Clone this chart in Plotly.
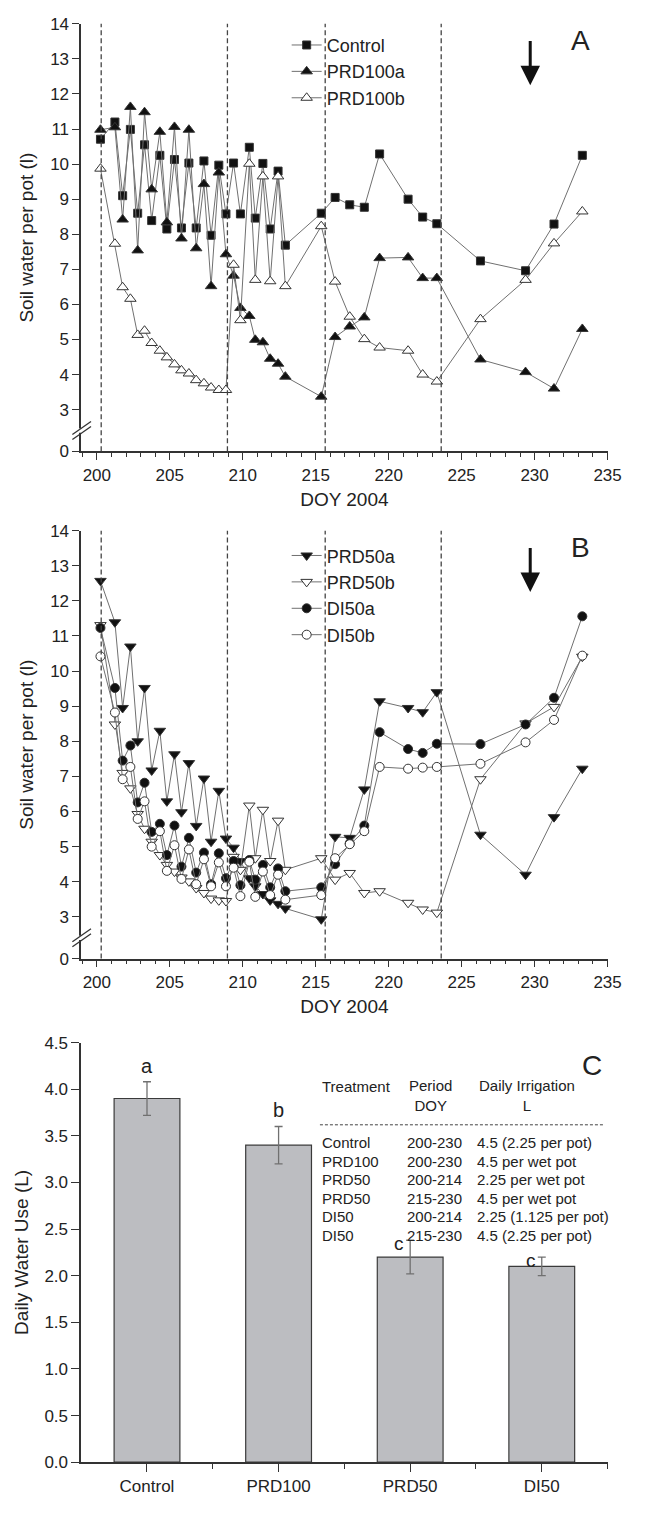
import plotly.graph_objects as go

W, H = 647, 1513
FONT = "Liberation Sans, Arial, sans-serif"
INK = "#222222"
AXIS = "#333333"

# ---- panels A and B: soil water per pot (l) by day of year 2004 ----
doy = [200.25, 201.24, 201.77, 202.3, 202.8, 203.27, 203.76, 204.32, 204.8, 205.32,
       205.8, 206.31, 206.81, 207.34, 207.83, 208.36, 208.85, 209.37, 209.84, 210.45,
       210.86, 211.38, 211.88, 212.42, 212.92, 215.38, 216.33, 217.33, 218.33, 219.38,
       221.33, 222.33, 223.3, 226.29, 229.38, 231.33, 233.27]

control = [10.71, 11.2, 9.1, 10.99, 8.6, 10.55, 8.39, 10.25, 8.15, 10.13,
           8.18, 10.03, 8.18, 10.09, 7.97, 9.97, 8.58, 10.03, 8.58, 10.48,
           8.46, 10.02, 8.15, 9.8, 7.69, 8.6, 9.05, 8.84, 8.77, 10.29,
           9.0, 8.49, 8.3, 7.24, 6.96, 8.29, 10.25]
prd100a = [10.98, 11.05, 8.42, 11.63, 7.54, 11.48, 9.28, 10.92, 8.34, 11.06,
           7.88, 10.98, 7.6, 9.43, 6.52, 9.76, 7.43, 6.82, 5.9, 5.67,
           4.99, 4.92, 4.45, 4.31, 3.94, 3.37, 5.07, 5.37, 5.63, 7.32,
           7.34, 6.75, 6.75, 4.43, 4.07, 3.6, 5.3]
prd100b = [9.87, 7.73, 6.49, 6.16, 5.13, 5.25, 4.9, 4.68, 4.49, 4.29,
           4.12, 4.03, 3.84, 3.75, 3.63, 3.56, 3.56, 7.13, 5.55, 10.01,
           6.7, 9.65, 6.66, 9.65, 6.52, 8.23, 6.65, 5.65, 5.01, 4.77,
           4.68, 4.0, 3.8, 5.58, 6.7, 7.74, 8.65]

prd50a = [12.57, 11.39, 8.95, 10.7, 8.0, 9.52, 7.17, 8.3, 6.29, 7.63,
          5.98, 7.38, 5.59, 6.94, 5.14, 6.59, 5.23, 4.97, 4.59, 4.1,
          3.87, 3.65, 3.47, 3.37, 3.24, 2.93, 5.28, 5.25, 6.63, 9.14,
          8.95, 8.83, 9.4, 5.34, 4.2, 5.84, 7.22]
prd50b = [11.31, 8.48, 7.1, 6.66, 5.93, 5.51, 5.14, 4.76, 4.48, 4.29,
          4.12, 4.01, 3.82, 3.68, 3.52, 3.47, 3.45, 4.71, 4.34, 6.17,
          4.67, 6.05, 4.59, 5.74, 4.34, 4.67, 4.06, 4.25, 3.68, 3.73,
          3.4, 3.21, 3.12, 6.92, 8.51, 8.98, 10.41]
di50a = [11.23, 9.52, 7.45, 7.88, 6.26, 6.82, 5.42, 5.65, 4.76, 5.6,
         4.43, 5.25, 4.26, 4.83, 3.93, 4.81, 4.1, 4.59, 3.9, 4.62,
         4.06, 4.48, 3.84, 4.38, 3.73, 3.84, 4.5, 5.09, 5.6, 8.26,
         7.78, 7.67, 7.93, 7.92, 8.48, 9.24, 11.56]
di50b = [10.42, 8.82, 6.92, 7.27, 5.79, 6.29, 5.0, 5.44, 4.31, 5.04,
         4.08, 4.92, 3.93, 4.64, 3.87, 4.55, 3.87, 4.4, 3.59, 4.57,
         3.57, 4.29, 3.62, 4.2, 3.49, 3.62, 4.67, 5.07, 5.44, 7.27,
         7.22, 7.25, 7.27, 7.36, 7.97, 8.61, 10.44]

stage_doy = [200.3, 208.95, 215.65, 223.6]
arrow_doy = 229.7

# ---- panel C: daily water use ----
treatments = ["Control", "PRD100", "PRD50", "DI50"]
water_use = [3.9, 3.4, 2.2, 2.1]
water_se = [0.18, 0.2, 0.18, 0.1]
letters = ["a", "b", "c", "c"]

table_treat = ["Control", "PRD100", "PRD50", "PRD50", "DI50", "DI50"]
table_period = ["200-230", "200-230", "200-214", "215-230", "200-214", "215-230"]
table_irrig = ["4.5 (2.25 per pot)", "4.5 per wet pot", "2.25 per wet pot",
               "4.5 per wet pot", "2.25 (1.125 per pot)", "4.5 (2.25 per pot)"]

Y_ZERO = 1.81  # value where the "0" of the broken axis is drawn


def px(x):
    return x / W


def py(y):
    return 1 - y / H


def note(x, y, text, size=15, xanchor="center", **kw):
    # text placed in page pixels
    return dict(x=px(x), y=py(y), xref="paper", yref="paper", text=text, showarrow=False,
                xanchor=xanchor, yanchor="middle", font=dict(size=size), **kw)


fig = go.Figure()

# (name, data, symbol, fill, size)
series_a = [
    ("Control", control, "square", "#111111", 8),
    ("PRD100a", prd100a, "triangle-up", "#111111", 10),
    ("PRD100b", prd100b, "triangle-up", "white", 10),
]
series_b = [
    ("PRD50a", prd50a, "triangle-down", "#111111", 10),
    ("PRD50b", prd50b, "triangle-down", "white", 10),
    ("DI50a", di50a, "circle", "#111111", 9),
    ("DI50b", di50b, "circle", "white", 9),
]

for axes, legend, series in [(("x", "y"), "legend", series_a),
                             (("x2", "y2"), "legend2", series_b)]:
    for name, vals, sym, fill, size in series:
        fig.add_trace(go.Scatter(
            x=doy, y=vals, name=name, mode="lines+markers",
            xaxis=axes[0], yaxis=axes[1], legend=legend,
            line=dict(color="#707070", width=1),
            marker=dict(symbol=sym, size=size, color=fill,
                        line=dict(color="#333333", width=1)),
        ))

fig.add_trace(go.Bar(
    x=list(range(len(treatments))), y=water_use, width=0.5,
    xaxis="x3", yaxis="y3", showlegend=False,
    marker=dict(color="#bcbdc1", line=dict(color="#3a3a3a", width=1.2)),
    error_y=dict(type="data", array=water_se, color="#707070", thickness=1.3, width=4),
))

doy_x = dict(
    range=[198.93, 235], showline=True, linecolor=AXIS, linewidth=1.5,
    ticks="outside", ticklen=7, tickwidth=1.2, tickcolor=AXIS,
    tick0=200, dtick=5, showgrid=False, zeroline=False,
    minor=dict(dtick=1, ticks="outside", ticklen=4, tickwidth=1, tickcolor=AXIS),
    tickfont=dict(size=17), title=dict(text="DOY 2004", font=dict(size=19), standoff=9),
)
water_y = dict(
    range=[Y_ZERO, 14], showline=True, linecolor=AXIS, linewidth=1.5,
    ticks="outside", ticklen=7, tickwidth=1.2, tickcolor=AXIS,
    tickmode="array", tickvals=[Y_ZERO] + list(range(3, 15)),
    ticktext=["0"] + [str(v) for v in range(3, 15)],
    showgrid=False, zeroline=False, tickfont=dict(size=17),
    title=dict(text="Soil water per pot (l)", font=dict(size=19), standoff=11),
)
legend_style = dict(xanchor="left", yanchor="top", bgcolor="rgba(0,0,0,0)",
                    font=dict(size=18), tracegroupgap=0)

fig.update_layout(
    width=W, height=H, margin=dict(l=0, r=0, t=0, b=0),
    paper_bgcolor="white", plot_bgcolor="white",
    font=dict(family=FONT, color=INK, size=17),
    xaxis=dict(doy_x, domain=[px(83), px(621)], anchor="y"),
    yaxis=dict(water_y, domain=[py(448), py(15)], anchor="x"),
    xaxis2=dict(doy_x, domain=[px(83), px(621)], anchor="y2"),
    yaxis2=dict(water_y, domain=[py(961.7), py(528.3)], anchor="x2"),
    xaxis3=dict(
        domain=[px(83), px(621)], anchor="y3", range=[-0.5, 3.5],
        showline=True, linecolor=AXIS, linewidth=1.5,
        ticks="outside", ticklen=8, tickwidth=1.2, tickcolor=AXIS,
        tickmode="array", tickvals=list(range(len(treatments))), ticktext=treatments,
        minor=dict(tickvals=[i + 0.5 for i in range(len(treatments))],
                   ticks="outside", ticklen=5, tickwidth=1.2, tickcolor=AXIS),
        showgrid=False, zeroline=False, tickfont=dict(size=17),
    ),
    yaxis3=dict(
        domain=[py(1471.7), py(1046.7)], anchor="x3", range=[0, 4.5],
        showline=True, linecolor=AXIS, linewidth=1.5,
        ticks="outside", ticklen=8, tickwidth=1.2, tickcolor=AXIS,
        dtick=0.5, tickformat=".1f", showgrid=False, zeroline=False,
        tickfont=dict(size=17),
        title=dict(text="Daily Water Use (L)", font=dict(size=19), standoff=11),
    ),
    legend=dict(legend_style, x=px(293), y=py(18)),
    legend2=dict(legend_style, x=px(293), y=py(535)),
)

shapes = []
annotations = []
for xa, ya, letter, letter_y in [("x", "y", "A", 32), ("x2", "y2", "B", 545)]:
    for d in stage_doy:
        shapes.append(dict(type="line", xref=xa, yref=ya + " domain", x0=d, x1=d,
                           y0=0, y1=1, line=dict(color="#444444", width=1.3, dash="5px,3px")))
    # axis break marks
    shapes.append(dict(type="rect", xref="paper", yref=ya, x0=px(80), x1=px(86),
                       y0=2.34, y1=2.46, fillcolor="white", line=dict(width=0), layer="above"))
    for off in (0.0, 0.14):
        shapes.append(dict(type="line", xref="paper", yref=ya, x0=px(74), x1=px(93),
                           y0=2.15 + off, y1=2.52 + off, line=dict(color=AXIS, width=1.3)))
    annotations.append(dict(x=arrow_doy, y=12.25, ax=arrow_doy, ay=13.55, xref=xa, yref=ya,
                            axref=xa, ayref=ya, showarrow=True, arrowhead=2, arrowsize=1.3,
                            arrowwidth=3, arrowcolor="#111111", text=""))
    annotations.append(note(593, letter_y, letter, size=28))

# significance letters above bars
for i, (v, se, lt) in enumerate(zip(water_use, water_se, letters)):
    if i < 2:
        annotations.append(dict(x=i, y=v + se, xref="x3", yref="y3", text=lt, showarrow=False,
                                xanchor="center", yanchor="bottom", yshift=3,
                                font=dict(size=20)))
    else:
        annotations.append(dict(x=i, y=v + se, xref="x3", yref="y3", text=lt, showarrow=False,
                                xanchor="center", yanchor="middle", xshift=-11, yshift=-3,
                                font=dict(size=19)))

annotations.append(note(605, 1070, "C", size=28))

# treatment table inside panel C
annotations.append(note(327, 1091, "Treatment", xanchor="left"))
annotations.append(note(440, 1100.5, "Period<br>DOY"))
annotations.append(note(539, 1100.5, "Daily Irrigation<br>L"))
shapes.append(dict(type="line", xref="paper", yref="paper", x0=px(327), x1=px(617),
                   y0=py(1130), y1=py(1130), line=dict(color="#444444", width=1, dash="3px,2px")))
for k, (t, p, irr) in enumerate(zip(table_treat, table_period, table_irrig)):
    yy = 1148 + 18.8 * k
    for xx, txt in [(327, t), (414, p), (486, irr)]:
        annotations.append(note(xx, yy, txt, xanchor="left"))

fig.update_layout(shapes=shapes, annotations=annotations)

fig.write_html("out.html", config={"displayModeBar": False},
               post_script="document.body.style.margin='0';")
